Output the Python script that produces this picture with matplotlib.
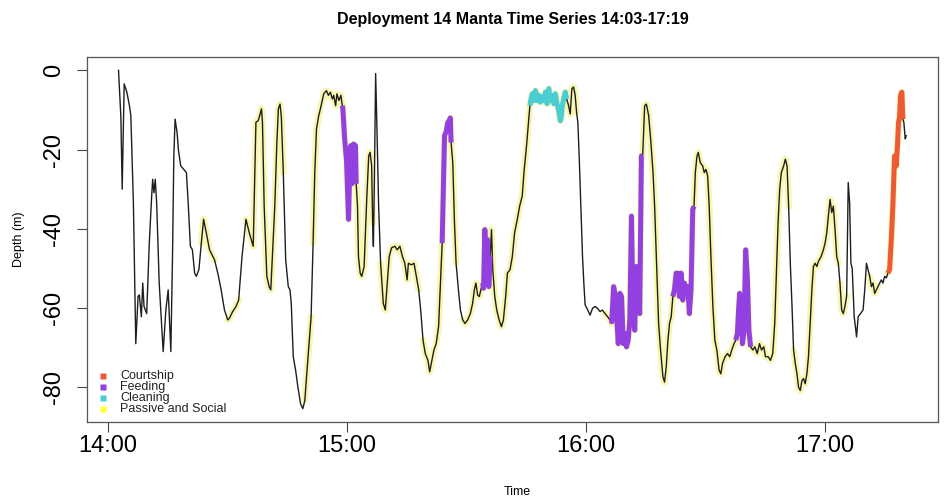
import matplotlib
matplotlib.use("Agg")
import matplotlib.pyplot as plt
import numpy as np

plt.rcParams["font.family"] = ["Liberation Sans", "DejaVu Sans"]

# Dive record: minutes after 14:00 and depth (m)
minutes = [
    2.67, 3.26, 3.59, 4.09, 4.76, 5.41, 5.76, 6.40, 7.00, 7.58, 7.90, 8.40, 8.75, 9.07,
    9.74, 10.39, 10.99, 11.24, 11.56, 11.89, 12.24, 12.88, 13.88, 14.55, 15.13, 15.80,
    16.22, 16.55, 16.87, 17.37, 17.72, 18.29, 19.04, 19.71, 20.11, 20.71, 21.21, 21.78,
    22.20, 22.85, 23.45,
    24.02, 24.70, 25.52, 26.76,
    27.59, 28.43, 29.26, 30.08,
    30.50, 31.32, 32.17, 32.82,
    33.67, 34.66,
    35.49, 36.48, 37.16, 37.73, 38.23, 38.55, 38.80, 39.23, 39.90, 40.47, 40.89, 41.29,
    41.89, 42.39, 42.79, 43.21, 43.54, 44.03,
    44.63, 45.28, 45.70, 46.03, 46.53, 47.12, 47.70, 48.37, 48.94, 49.44,
    49.86, 50.44, 51.01,
    51.51,
    51.93, 52.36, 52.93, 53.35, 54.18, 54.85, 55.35, 55.85, 56.35, 56.67, 57.17, 57.49,
    57.99, 58.49, 58.84,
    58.99, 59.41, 59.91, 60.41, 60.66, 60.98, 61.33, 61.65, 62.15, 62.33,
    62.66, 62.90, 63.33, 63.72, 64.32, 64.97, 65.47, 65.82, 66.21, 66.46,
    66.64, 66.89, 67.21, 67.56, 67.96, 68.46,
    69.13, 69.63, 70.13, 70.62, 71.20, 72.04, 72.62, 73.29, 73.94, 74.54, 75.11, 75.43,
    76.18, 76.85, 77.43, 78.02,
    78.52, 79.10,
    79.67, 80.34, 80.77, 81.17, 81.84, 82.41, 83.01, 83.41, 83.91,
    84.50, 84.90, 85.33, 85.75, 85.95, 86.15,
    86.57, 87.00, 87.40,
    87.99, 88.49, 89.07,
    89.64, 90.31, 90.98, 91.56, 91.98, 92.38, 92.80, 93.22, 93.62, 94.05,
    94.30, 94.62, 94.97, 95.29, 95.62, 95.97,
    96.29, 96.61, 97.11, 97.61, 98.21, 98.78, 99.28, 99.85, 100.28, 100.95, 101.52,
    102.09, 102.77, 103.35, 104.01, 104.44, 105.09, 105.59, 105.93,
    106.08, 106.51, 106.93, 107.33, 107.76, 108.18, 108.58, 109.00, 109.43, 109.82,
    110.25, 110.67, 111.07, 111.49, 111.92, 112.31, 112.74, 113.16, 113.56, 113.81,
    114.06, 114.41, 114.81, 115.16,
    115.65, 116.05, 116.47, 116.90, 117.30, 117.65,
    117.97, 118.30, 118.72, 119.14, 119.47, 119.79, 120.46, 121.04, 121.64, 122.29,
    122.95, 123.53, 124.12, 124.78,
    125.45, 126.02, 126.45,
    126.95, 127.27, 127.70, 128.12, 128.52, 128.94, 129.37, 129.77, 130.18, 130.61,
    131.01, 131.43, 131.85, 132.25, 132.68, 133.10, 133.50, 133.92, 134.24,
    134.74, 135.17, 135.74, 136.24, 136.84, 137.24, 137.66, 138.24, 138.73, 139.33,
    139.73, 140.15, 140.58, 140.98, 141.40, 141.82,
    142.22, 142.64, 143.07, 143.46, 143.89, 144.31, 144.71, 145.14, 145.56, 145.96,
    146.38, 146.81, 147.13,
    147.46, 147.88, 148.20, 148.70, 149.30, 149.70, 150.12, 150.55, 150.94, 151.37,
    151.86, 152.36, 152.86, 153.43, 153.86, 154.28, 154.93, 155.53, 156.10, 156.60,
    157.17, 157.60,
    158.02, 158.34, 158.59, 158.92, 159.27, 159.67, 160.09, 160.51, 160.91, 161.33,
    161.90, 162.40, 162.99, 163.57, 164.07, 164.64, 165.07, 165.74, 166.31, 166.89,
    167.39, 167.81, 168.23, 168.63, 169.05, 169.63, 170.06, 170.48, 170.88,
    171.30, 171.73, 172.12,
    172.55, 172.97, 173.37, 173.80, 174.22, 174.62, 175.04, 175.46, 175.86, 176.29,
    176.71, 177.11, 177.53, 177.96, 178.36, 179.03, 179.60, 180.03, 180.45, 180.85,
    181.28, 181.70, 182.10, 182.53, 182.95, 183.35,
    183.77,
    184.19, 184.59, 185.01, 185.44,
    185.84, 186.19, 186.51, 186.84, 187.34, 187.93, 188.33, 188.93, 189.56, 189.99,
    190.41, 190.81, 191.23,
    191.66, 192.06, 192.48, 192.90, 193.30,
    193.73, 194.15, 194.55, 194.97, 195.40, 195.80,
    196.22, 196.65, 197.04, 197.47, 197.89, 198.22, 198.47, 198.72, 198.97, 199.30, 199.55,
    199.80, 200.15, 200.40,
]

depth = [
    0.0, -11.8, -30.0, -3.4, -5.5, -8.9, -11.4, -33.4, -69.0, -57.0, -56.7, -62.2, -53.7, -59.6,
    -61.4, -43.6, -31.7, -27.5, -30.9, -27.5, -33.4, -53.7, -71.0, -60.5, -55.4, -71.0,
    -47.0, -21.6, -12.3, -15.7, -20.3, -24.1, -25.0, -25.8, -32.6, -44.4, -45.3, -51.2,
    -52.0, -50.3, -43.6,
    -37.6, -41.0, -45.3, -47.8,
    -51.2, -55.4, -60.5, -63.0,
    -62.6, -60.9, -59.6, -58.0,
    -47.0, -37.6,
    -41.0, -44.4, -13.1, -12.7, -11.0, -9.7, -13.1, -34.3, -52.0, -54.6, -55.4, -47.0,
    -34.3, -19.0, -9.7, -8.5, -11.8, -25.8,
    -47.8, -54.6, -55.4, -58.8, -72.3, -75.7, -80.0, -84.2, -85.4, -83.3,
    -77.4, -69.8, -62.2,
    -43.6,
    -25.8, -14.8, -11.4, -9.7, -5.9, -5.1, -6.3, -5.5, -7.2, -6.3, -8.9, -5.9,
    -7.6, -6.3, -8.9,
    -9.7, -17.0, -23.0, -37.6, -26.5, -19.0, -28.6, -18.6, -19.0, -28.6,
    -34.3, -47.0, -51.2, -52.0, -49.5, -32.6, -21.6, -20.7, -24.1, -38.5,
    -44.4, -28.3, -0.8, -15.7, -34.3, -48.7,
    -58.8, -60.5, -53.7, -47.0, -44.8, -44.4, -45.3, -44.4, -47.0, -48.7, -52.9, -48.7,
    -49.1, -48.7, -52.0, -55.4,
    -60.5, -68.1,
    -71.5, -73.2, -76.1, -74.0, -70.6, -69.0, -64.7, -55.4, -43.6,
    -16.5, -15.5, -13.1, -12.7, -12.0, -18.2,
    -23.3, -38.5, -48.7,
    -55.4, -60.5, -63.0,
    -63.9, -63.0, -61.4, -58.8, -55.4, -53.7, -56.7, -57.1, -55.4, -53.7,
    -55.0, -40.2, -51.2, -42.7, -54.6, -47.0,
    -40.2, -50.3, -57.1, -60.5, -63.0, -64.7, -63.0, -57.1, -51.2, -50.3, -47.0,
    -41.0, -37.6, -34.3, -31.7, -25.8, -19.0, -13.1, -8.9,
    -8.0, -5.9, -7.6, -5.1, -7.6, -6.3, -8.0, -6.7, -7.6, -5.5,
    -8.4, -4.6, -7.6, -6.3, -8.4, -5.9, -8.4, -10.1, -12.7, -11.8,
    -8.9, -7.2, -5.5, -7.2,
    -8.9, -11.0, -4.6, -4.2, -6.3, -10.6,
    -13.1, -21.6, -34.3, -47.0, -53.7, -59.2, -60.5, -61.8, -60.1, -59.6,
    -60.1, -60.9, -60.5, -61.4,
    -62.2, -63.0, -63.9,
    -54.6, -56.3, -62.2, -69.0, -56.3, -57.1, -69.0, -66.4, -69.8, -68.1,
    -63.0, -36.8, -62.2, -65.6, -49.5, -60.5, -61.4, -21.6, -21.6,
    -8.9, -8.5, -11.4, -17.3, -25.8, -34.3, -47.0, -63.9, -70.6, -77.4,
    -78.7, -74.9, -68.1, -63.9, -62.2, -57.1,
    -55.4, -51.2, -51.2, -57.1, -51.2, -58.0, -53.7, -55.4, -54.6, -61.4,
    -55.4, -35.1, -34.3,
    -25.8, -21.6, -20.7, -23.3, -24.1, -25.8, -25.0, -26.6, -34.3, -47.0,
    -59.6, -68.1, -70.6, -75.7, -76.6, -74.0, -72.3, -71.5, -72.3, -70.6,
    -69.0, -68.1,
    -66.4, -60.0, -56.3, -58.0, -69.0, -66.0, -45.3, -52.0, -65.6, -69.8,
    -70.6, -69.8, -71.5, -69.0, -70.6, -69.8, -72.3, -72.3, -73.2, -71.5,
    -63.9, -51.2, -38.5, -30.0, -25.8, -24.1, -22.4, -24.1, -34.3,
    -48.7, -59.6, -70.6,
    -74.0, -76.6, -80.0, -80.8, -78.3, -77.8, -79.1, -76.6, -72.3, -63.9,
    -55.4, -49.5, -48.7, -49.5, -48.2, -47.0, -45.3, -43.6, -41.0, -36.8,
    -32.6, -35.9, -34.3, -40.2, -47.0, -48.7,
    -53.7,
    -60.5, -61.4, -59.6, -57.0,
    -28.3, -33.4, -48.7, -50.0, -62.2, -67.3, -62.2, -61.4, -60.5, -55.4,
    -48.7, -50.3, -52.0,
    -54.6, -53.7, -56.3, -55.4, -54.6,
    -53.7, -52.9, -53.7, -52.0, -52.4, -51.2,
    -50.3, -42.7, -34.3, -21.6, -24.1, -18.6, -13.1, -11.8, -6.3, -5.5, -12.3,
    -13.1, -17.3, -16.5,
]

# Behaviour bouts (minutes after 14:00)
bout_start = [24.02, 30.50, 35.49, 49.86, 51.93, 58.99, 62.66, 69.13, 79.67, 84.50,
              86.57, 89.64, 94.30, 96.29, 106.08, 115.65, 125.45, 126.95, 134.74,
              142.22, 147.46, 158.02, 161.90, 172.55, 184.19, 191.66, 196.22]
bout_end = [26.76, 32.82, 44.03, 51.01, 58.84, 62.33, 66.46, 78.02, 83.91, 86.15,
            87.40, 94.05, 95.97, 105.93, 115.16, 117.65, 126.45, 134.24, 141.82,
            147.13, 157.60, 161.33, 170.88, 183.35, 185.44, 193.30, 199.55]
bout_state = ["Passive and Social", "Passive and Social", "Passive and Social",
              "Passive and Social", "Passive and Social", "Feeding",
              "Passive and Social", "Passive and Social", "Passive and Social",
              "Feeding", "Passive and Social", "Passive and Social", "Feeding",
              "Passive and Social", "Cleaning", "Passive and Social",
              "Passive and Social", "Feeding", "Passive and Social", "Feeding",
              "Passive and Social", "Feeding", "Passive and Social",
              "Passive and Social", "Passive and Social", "Passive and Social",
              "Courtship"]

legend_states = ["Courtship", "Feeding", "Cleaning", "Passive and Social"]
state_colors = ["#EE5A36", "#9340E0", "#4ACDD3", "#FFFF33"]

time_ticks = [0, 60, 120, 180]
time_labels = ["14:00", "15:00", "16:00", "17:00"]
depth_ticks = [0, -20, -40, -60, -80]

t = np.asarray(minutes)
d = np.asarray(depth)

state = np.array([""] * len(t), dtype=object)
for s, e, lab in zip(bout_start, bout_end, bout_state):
    state[(t >= s - 1e-6) & (t <= e + 1e-6)] = lab

# segment i joins point i and i+1 and takes the state of point i+1
seg_state = state[1:]


def draw_runs(ax, mask, **kw):
    idx = np.flatnonzero(mask)
    if idx.size == 0:
        return
    breaks = np.flatnonzero(np.diff(idx) > 1)
    starts = np.r_[idx[0], idx[breaks + 1]]
    ends = np.r_[idx[breaks], idx[-1]]
    for a, b in zip(starts, ends):
        ax.plot(t[a:b + 2], d[a:b + 2], **kw)


fig = plt.figure(figsize=(9.5, 4.99), dpi=100)
ax = fig.add_axes([0.0916, 0.154, 0.8955, 0.732])

# soft yellow glow under every behaviour bout
draw_runs(ax, seg_state != "", color="#F0EC48", alpha=0.42, lw=4.8,
          solid_capstyle="round", solid_joinstyle="round", zorder=1)
ax.plot(t, d, color="#1e1e1e", lw=1.0, zorder=2)
for lab, col in zip(legend_states[:3], state_colors[:3]):
    draw_runs(ax, seg_state == lab, color=col, lw=3.6,
              solid_capstyle="butt", solid_joinstyle="round", zorder=3)

ax.margins(x=0.04, y=0.04)
ax.set_xticks(time_ticks, time_labels, fontsize=17)
ax.set_yticks(depth_ticks, [str(v) for v in depth_ticks], fontsize=17,
              rotation=90, va="center")
ax.tick_params(axis="x", length=7, width=0.8, color="#444444", pad=2)
ax.tick_params(axis="y", length=7, width=0.8, color="#444444", pad=9)
for sp in ax.spines.values():
    sp.set_color("#555555")
    sp.set_linewidth(0.9)

ax.set_xlabel("Time", fontsize=9)
ax.xaxis.set_label_coords(0.506, -0.175)
ax.set_ylabel("Depth (m)", fontsize=9)
ax.yaxis.set_label_coords(-0.073, 0.5)

ax.set_title("Deployment 14 Manta Time Series 14:03-17:19", fontsize=11.5,
             fontweight="bold", pad=24)

# legend: coloured squares with labels, lower left
for i, (lab, col) in enumerate(zip(legend_states, state_colors)):
    y = 0.126 - i * 0.030
    ax.plot([0.0188], [y], marker="s", ms=4.5, color=col, mec="none",
            transform=ax.transAxes, zorder=5)
    ax.text(0.0388, y, lab, transform=ax.transAxes, fontsize=9,
            va="center", ha="left", color="#222222", zorder=5)

fig.savefig("out.png", dpi=100, facecolor="white")
